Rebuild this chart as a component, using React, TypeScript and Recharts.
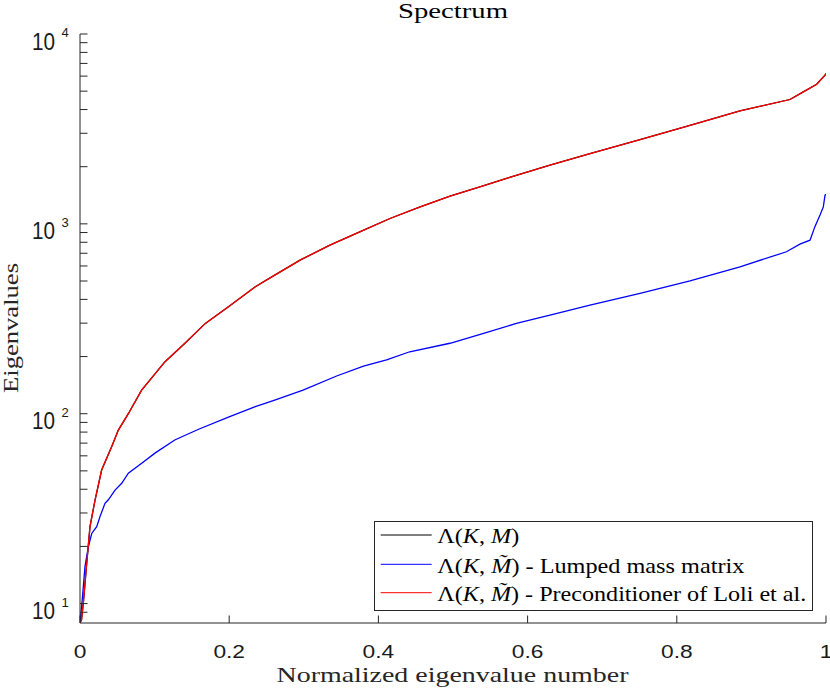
import React from 'react';
import { LineChart, Line, XAxis, YAxis, Legend } from 'recharts';

// ---- data ----
const RED_X = [0, 0.002, 0.0045, 0.009, 0.0134, 0.0201, 0.029, 0.0424, 0.0514, 0.0648, 0.0826, 0.114, 0.141, 0.168, 0.199, 0.235, 0.261, 0.295, 0.335, 0.375, 0.4155, 0.456, 0.496, 0.536, 0.576, 0.63, 0.6836, 0.7507, 0.8177, 0.8847, 0.9517, 0.9696, 0.9875, 0.9987, 1.0];
const RED_Y = [7.9, 8.2, 10.1, 16.3, 25.4, 35, 50.5, 67, 82, 100, 133, 188, 236, 299, 366, 466, 537, 644, 773, 908, 1067, 1228, 1399, 1566, 1755, 2037, 2343, 2780, 3305, 3934, 4518, 4955, 5433, 6066, 6200];

const BLUE_X = [0, 0.003, 0.0067, 0.0112, 0.0157, 0.0224, 0.0268, 0.0335, 0.038, 0.047, 0.0559, 0.0648, 0.0827, 0.1005, 0.127, 0.159, 0.199, 0.235, 0.261, 0.299, 0.344, 0.38, 0.411, 0.442, 0.496, 0.541, 0.585, 0.63, 0.6836, 0.7507, 0.8177, 0.8847, 0.947, 0.965, 0.9786, 0.985, 0.992, 0.9964, 0.9987, 1.0];
const BLUE_Y = [7.9, 10.5, 15.7, 19.9, 23.4, 25.4, 28.7, 33.7, 35.2, 39.6, 43, 48.6, 54.9, 62, 72.7, 82.8, 96, 109, 118, 133, 158, 178, 192, 212, 235, 265, 299, 331, 373, 430, 501, 594, 713, 782, 820, 964, 1112, 1228, 1416, 1430];

// Λ(K,M) coincides with the Loli et al. curve (hidden beneath it)
const BLACK_X = RED_X;
const BLACK_Y = RED_Y;

const X_TICKS = [0, 0.2, 0.4, 0.6, 0.8, 1];
const X_TICK_LABELS = ['0', '0.2', '0.4', '0.6', '0.8', '1'];
const Y_MAJOR = [10, 100, 1000, 10000];
const Y_MAJOR_EXP = ['1', '2', '3', '4'];
const Y_MINOR = [9, 20, 30, 40, 50, 60, 70, 80, 90, 200, 300, 400, 500, 600, 700, 800, 900, 2000, 3000, 4000, 5000, 6000, 7000, 8000, 9000];

const SERIES_COLORS = ['#000000', '#0000ff', '#ff0000'];
const SERIES_TILDE = [false, true, true];
const SERIES_SUFFIX = ['', ' - Lumped mass matrix', ' - Preconditioner of Loli et al.'];

const TITLE = 'Spectrum';
const X_LABEL = 'Normalized eigenvalue number';
const Y_LABEL = 'Eigenvalues';

const toPoints = (xs: number[], ys: number[]) => xs.map((x, i) => ({ x, y: ys[i] }));
const blackData = toPoints(BLACK_X, BLACK_Y);
const blueData = toPoints(BLUE_X, BLUE_Y);
const redData = toPoints(RED_X, RED_Y);
const Y_TICKS = [...Y_MINOR, ...Y_MAJOR].sort((a, b) => a - b);

// ---- styles ----
const AX = '#262626';
const TL = 7.5;
const SANS = 'Liberation Sans';
const SERIF = 'Liberation Serif';

const XTickBottom = (props: any) => {
  const { x, y, payload } = props;
  const idx = X_TICKS.indexOf(payload.value);
  return (
    <g>
      <line x1={x} x2={x} y1={y} y2={y - TL} stroke={AX} strokeWidth={1} />
      <text transform={`translate(${x},${y + 35}) scale(1.3,1)`} textAnchor="middle" fontFamily={SANS} fontSize={17.5} fill="#1a1a1a">
        {X_TICK_LABELS[idx]}
      </text>
    </g>
  );
};

const XTickTop = (props: any) => {
  const { x, y } = props;
  return <line x1={x} x2={x} y1={y} y2={y + TL} stroke={AX} strokeWidth={1} />;
};

const YTickLeft = (props: any) => {
  const { x, y, payload } = props;
  const mi = Y_MAJOR.indexOf(payload.value);
  return (
    <g>
      <line x1={x} x2={x + TL} y1={y} y2={y} stroke={AX} strokeWidth={1} />
      {mi >= 0 && (
        <text transform={`translate(${x - 25},${y + 15.5}) scale(0.88,1)`} textAnchor="end" fontFamily={SANS} fontSize={23.5} fill="#1a1a1a">
          10
        </text>
      )}
      {mi >= 0 && (
        <text x={x - 18.5} y={y + 3} textAnchor="start" fontFamily={SANS} fontSize={13} fill="#1a1a1a">
          {Y_MAJOR_EXP[mi]}
        </text>
      )}
    </g>
  );
};

const YTickRight = (props: any) => {
  const { x, y } = props;
  return <line x1={x} x2={x - TL} y1={y} y2={y} stroke={AX} strokeWidth={1} />;
};

const ROW_LINE_Y = [14, 43.3, 71.7];
const ROW_BASE_Y = [22, 51.5, 79.5];
const ROW_W = [82, 307, 369];

const LegendBox = () => (
  <svg width={440} height={91} style={{ display: 'block' }}>
    <rect x={0.5} y={0.5} width={438} height={89} fill="#ffffff" stroke={AX} strokeWidth={1} />
    {SERIES_COLORS.map((c, i) => (
      <g key={i}>
        <line x1={6.7} x2={57.7} y1={ROW_LINE_Y[i]} y2={ROW_LINE_Y[i]} stroke={c} strokeWidth={1} />
        <text x={63.3} y={ROW_BASE_Y[i]} fontFamily={SERIF} fontSize={21} fill="#000" textLength={ROW_W[i]} lengthAdjust="spacingAndGlyphs">
          {'Λ('}
          <tspan fontStyle="italic">K</tspan>
          {', '}
          <tspan fontStyle="italic">{SERIES_TILDE[i] ? 'M\u0303' : 'M'}</tspan>
          {')'}
          {SERIES_SUFFIX[i]}
        </text>
      </g>
    ))}
  </svg>
);

export default function App() {
  return (
    <div style={{ position: 'absolute', left: 0, top: 0, width: 830, height: 693, background: '#fff' }}>
      <LineChart width={830} height={693} margin={{ top: 34, right: 4, bottom: 0, left: 0 }}>
        <XAxis
          xAxisId="b"
          dataKey="x"
          type="number"
          domain={[0, 1]}
          allowDataOverflow
          ticks={X_TICKS}
          interval={0}
          height={70}
          tickSize={0}
          tickMargin={0}
          tickLine={false}
          axisLine={{ stroke: AX, strokeWidth: 1 }}
          tick={<XTickBottom />}
        />
        <XAxis
          xAxisId="t"
          orientation="top"
          dataKey="x"
          type="number"
          domain={[0, 1]}
          allowDataOverflow
          ticks={X_TICKS}
          interval={0}
          height={0}
          tickSize={0}
          tickMargin={0}
          tickLine={false}
          axisLine={{ stroke: AX, strokeWidth: 1 }}
          tick={<XTickTop />}
        />
        <YAxis
          yAxisId="l"
          dataKey="y"
          scale="log"
          type="number"
          domain={[7.9, 10000]}
          allowDataOverflow
          ticks={Y_TICKS}
          interval={0}
          width={80}
          tickSize={0}
          tickMargin={0}
          tickLine={false}
          axisLine={{ stroke: AX, strokeWidth: 1 }}
          tick={<YTickLeft />}
        />
        <YAxis
          yAxisId="r"
          orientation="right"
          dataKey="y"
          scale="log"
          type="number"
          domain={[7.9, 10000]}
          allowDataOverflow
          ticks={Y_TICKS}
          interval={0}
          width={0}
          tickSize={0}
          tickMargin={0}
          tickLine={false}
          axisLine={{ stroke: AX, strokeWidth: 1 }}
          tick={<YTickRight />}
        />
        <Line xAxisId="b" yAxisId="l" data={blackData} dataKey="y" type="linear" stroke={SERIES_COLORS[0]} strokeWidth={1.3} dot={false} isAnimationActive={false} />
        <Line xAxisId="b" yAxisId="l" data={blueData} dataKey="y" type="linear" stroke={SERIES_COLORS[1]} strokeWidth={1.3} dot={false} isAnimationActive={false} />
        <Line xAxisId="b" yAxisId="l" data={redData} dataKey="y" type="linear" stroke={SERIES_COLORS[2]} strokeWidth={1.3} dot={false} isAnimationActive={false} />
        <Legend
          content={<LegendBox />}
          layout="horizontal"
          verticalAlign="middle"
          align="center"
          wrapperStyle={{ position: 'absolute', left: 374, top: 521, width: 440, height: 91 }}
        />
        <text x={453} y={18} textAnchor="middle" fontFamily={SERIF} fontSize={22} fill="#000" textLength={110} lengthAdjust="spacingAndGlyphs">
          {TITLE}
        </text>
        <text x={452.5} y={682} textAnchor="middle" fontFamily={SERIF} fontSize={21.5} fill={AX} textLength={352} lengthAdjust="spacingAndGlyphs">
          {X_LABEL}
        </text>
        <text x={17.5} y={328} transform="rotate(-90,17.5,328)" textAnchor="middle" fontFamily={SERIF} fontSize={22} fill={AX} textLength={130} lengthAdjust="spacingAndGlyphs">
          {Y_LABEL}
        </text>
      </LineChart>
    </div>
  );
}
